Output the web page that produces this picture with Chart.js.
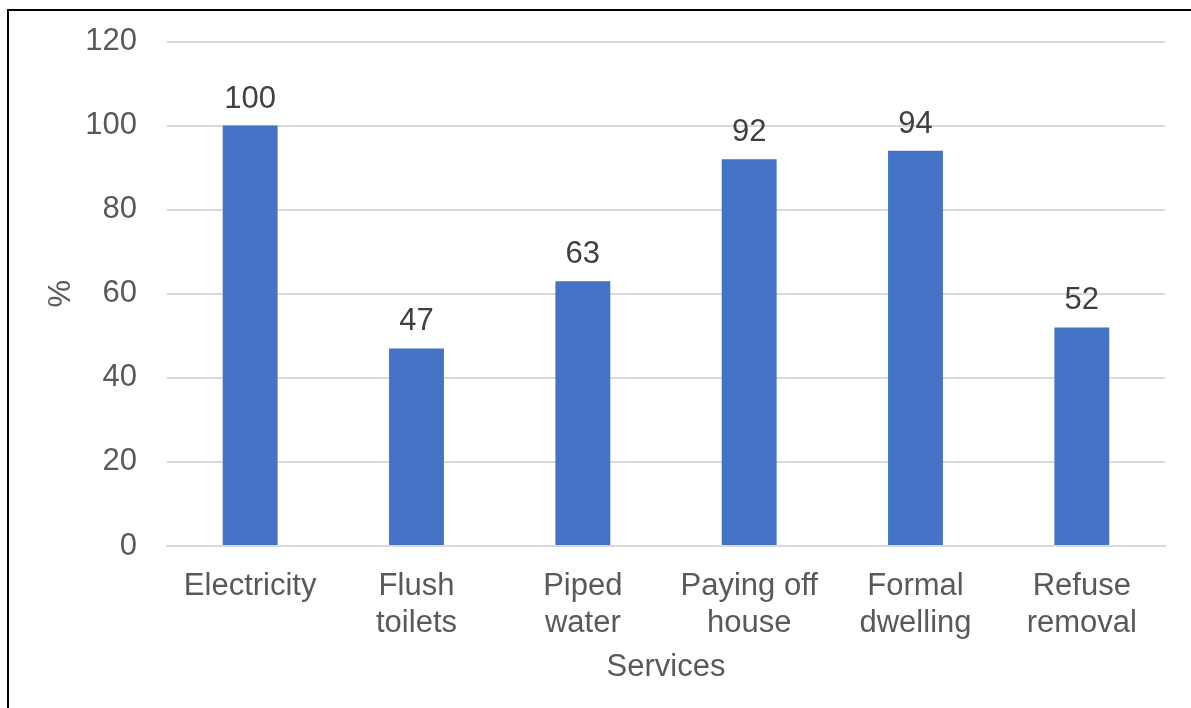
<!DOCTYPE html>
<html>
<head>
<meta charset="utf-8">
<script src="https://cdn.jsdelivr.net/npm/chart.js@4.4.1/dist/chart.umd.min.js"></script>
<style>
  html, body { margin: 0; padding: 0; background: #fff; overflow: hidden; }
  #wrap { position: relative; width: 1191px; height: 708px; }
  #frame {
    position: absolute; left: 7px; top: 9px; width: 1200px; height: 720px;
    border-left: 2px solid #000; border-top: 2px solid #000; box-sizing: border-box;
    pointer-events: none;
  }
  canvas { position: absolute; left: 0; top: 0; }
</style>
</head>
<body>
<div id="wrap">
  <canvas id="servicosChart" width="1191" height="708"></canvas>
  <div id="frame"></div>
</div>
<script>
// Dados do gráfico
const categorias = [
  "Electricity",
  ["Flush", "toilets"],
  ["Piped", "water"],
  ["Paying off", "house"],
  ["Formal", "dwelling"],
  ["Refuse", "removal"],
];
const valores = [100, 47, 63, 92, 94, 52];
const ticksY = [0, 20, 40, 60, 80, 100, 120];

const FONTE = "'Liberation Sans', Arial, sans-serif";
const COR_BARRA = "#4472C4";
const COR_TEXTO = "#595959";
const COR_ROTULO = "#404040";
const COR_GRADE = "#D9D9D9";

// Rótulos de valor acima de cada barra
const rotulosValor = {
  id: "rotulosValor",
  afterDatasetsDraw(chart) {
    const { ctx } = chart;
    const meta = chart.getDatasetMeta(0);
    ctx.save();
    ctx.font = `31px ${FONTE}`;
    ctx.fillStyle = COR_ROTULO;
    ctx.textAlign = "center";
    ctx.textBaseline = "alphabetic";
    meta.data.forEach((bar, i) => {
      ctx.fillText(String(valores[i]), bar.x, bar.y - 18);
    });
    ctx.restore();
  },
};

const ctx = document.getElementById("servicosChart").getContext("2d");

new Chart(ctx, {
  type: "bar",
  data: {
    labels: categorias,
    datasets: [
      {
        data: valores,
        backgroundColor: COR_BARRA,
        borderWidth: 0,
        categoryPercentage: 1,
        barPercentage: 0.33,
      },
    ],
  },
  options: {
    responsive: false,
    animation: false,
    events: [],
    layout: {
      padding: { top: 41.5, right: 26, bottom: 0, left: 0 },
    },
    plugins: {
      legend: { display: false },
      tooltip: { enabled: false },
    },
    scales: {
      x: {
        grid: { display: false, drawTicks: false },
        border: { display: true, color: COR_GRADE, width: 2 },
        ticks: {
          color: COR_TEXTO,
          font: { family: FONTE, size: 31, lineHeight: 1.2 },
          padding: 22,
          maxRotation: 0,
          autoSkip: false,
        },
        title: {
          display: true,
          text: "Services",
          color: COR_TEXTO,
          font: { family: FONTE, size: 31 },
          padding: { top: 0, bottom: 22 },
        },
        afterFit(scale) {
          scale.height = 162;
        },
      },
      y: {
        min: 0,
        max: 120,
        afterBuildTicks(scale) {
          scale.ticks = ticksY.map((v) => ({ value: v }));
        },
        grid: { color: COR_GRADE, lineWidth: 2, drawTicks: false },
        border: { display: false },
        ticks: {
          color: COR_TEXTO,
          font: { family: FONTE, size: 31 },
          padding: 30,
        },
        title: {
          display: true,
          text: "%",
          color: COR_TEXTO,
          font: { family: FONTE, size: 31 },
          padding: { top: 43, bottom: 0 },
        },
        afterFit(scale) {
          // largura fixa e sem folga extra acima/abaixo
          scale.width = 167;
          scale.paddingTop = 0;
          scale.paddingBottom = 0;
        },
      },
    },
  },
  plugins: [rotulosValor],
});
</script>
</body>
</html>
